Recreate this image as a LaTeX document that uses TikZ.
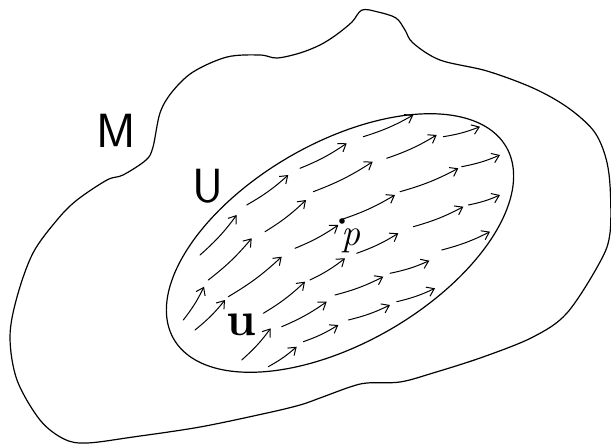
\documentclass[tikz,border=0pt]{standalone}
\usepackage{fontspec}
\usetikzlibrary{arrows.meta}
\begin{document}
\begin{tikzpicture}[x=1pt,y=-1pt,
  outline/.style={line width=1.2pt, line join=round},
  flow/.style={line width=1pt, line cap=round, -{Straight Barb[length=7pt,width=10pt,line width=1pt]}},
  lbl/.style={inner sep=0pt}]
\useasboundingbox[fill=white] (0,0) rectangle (611,445);
% outer region M
\draw[outline] plot[smooth cycle, tension=0.55] coordinates {
 (362,10) (378,12) (396,18) (405,30) (413,43) (440,60) (487,71) (533,88)
 (567,107) (593,130) (605,155) (610,185) (610,233) (600,262) (567,313)
 (533,337) (483,357) (433,373) (400,382) (367,383) (350,387) (320,398)
 (300,405) (267,413) (200,427) (133,437) (87,443) (64,439) (40,420)
 (17,380) (10,337) (17,297) (33,253) (57,220) (77,200) (107,180) (123,175)
 (146,160) (153,147) (160,113) (172,92) (193,72) (227,57) (260,55) (277,58)
 (300,53) (320,45) (336,35) (352,22)};
% inner region U (ellipse)
\draw[outline] plot[domain=0:360, samples=120, smooth cycle, variable=\t]
 ({340 + 192*cos(\t)*cos(30) - 100*sin(\t)*sin(30)},
  {243 - 192*cos(\t)*sin(30) - 100*sin(\t)*cos(30)});
% vector field
\foreach \ax/\ay/\bx/\by in {
  200/255/236.7/215, 246.7/205/288.3/175, 300/168.3/346.7/143.3, 363.3/136.7/413.3/115,
  183.3/320/204/286.7, 208.3/280/251.7/238.3, 265/231.7/306/200, 313.3/191.7/372.7/161.7,
  386.7/158.3/436.7/135, 443.3/136.7/480/126.7,
  195/330/225/300, 228.3/296.7/281.7/256.7, 295/248.3/338.3/225, 340/220/395/195,
  400/191.7/458.3/168.3, 461.7/166.7/500/155,
  263.3/313.3/305/281.7, 310/280/345/258.3, 356.7/253.3/398.3/233.3, 413.3/226.7/463.3/206.7,
  468.3/205/500/195,
  241.7/360/270.7/328.3, 281.7/326.7/326.7/301.7, 335/295/383.3/276.7, 390/273.3/429.3/260.7,
  441.7/250/490/231.7,
  268.3/366.7/296.7/346.7, 303.3/341.7/338.3/325, 348.3/320/390/305, 396.7/301.7/435/288.3}
  \draw[flow] (\ax,\ay) to[bend right=6] (\bx,\by);
% point p
\fill (342,221) circle (2.8pt);
% labels
\node[lbl] (M) at (116,131) {\fontsize{48}{48}\selectfont\sffamily M};
\node[lbl] (U) at (208,186) {\fontsize{48}{48}\selectfont\sffamily U};
\node[lbl] (u) at (241,325) {\fontsize{48}{48}\selectfont\bfseries u};
\node[lbl] (p) at (351,241) {\fontsize{38}{38}\selectfont\itshape p};
\end{tikzpicture}
\end{document}
